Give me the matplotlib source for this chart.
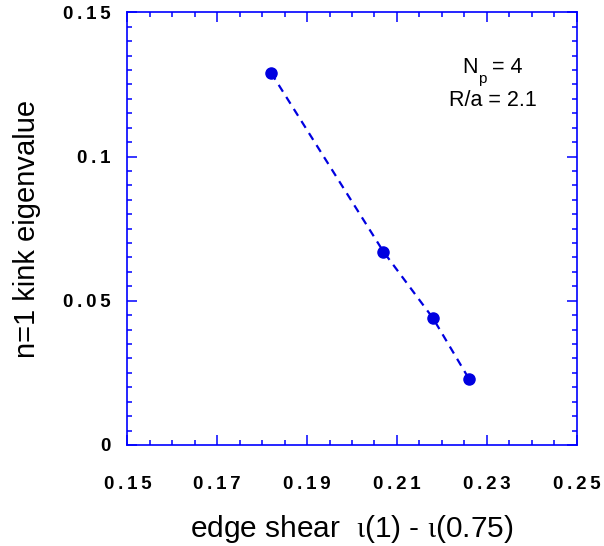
import numpy as np
import matplotlib
matplotlib.use('Agg')
import matplotlib.pyplot as plt
from matplotlib.ticker import MultipleLocator

plt.rcParams['font.family'] = ['Liberation Sans', 'DejaVu Sans']
plt.rcParams['mathtext.fontset'] = 'custom'
plt.rcParams['mathtext.rm'] = 'Liberation Sans'
plt.rcParams['mathtext.it'] = 'Liberation Serif'

# data
edge_shear = [0.182, 0.207, 0.218, 0.226]
kink_eig = [0.129, 0.067, 0.044, 0.023]

x_ticks = [0.15, 0.17, 0.19, 0.21, 0.23, 0.25]
x_labels = ['0.15', '0.17', '0.19', '0.21', '0.23', '0.25']
y_ticks = [0, 0.05, 0.1, 0.15]
y_labels = ['0', '0.05', '0.1', '0.15']

blue = '#0000FF'
mark = '#0000E0'


def spaced(s):
    # the original labels are letter-spaced
    return '\u2009'.join(s)


fig = plt.figure(figsize=(6.04, 5.46), dpi=100)
ax = fig.add_axes([0.2108, 0.185, 0.744, 0.7925])

ax.plot(edge_shear, kink_eig, color=mark, ls=(0, (3.6, 2.8)), lw=1.6)
ax.plot(edge_shear, kink_eig, 'o', color=mark, ms=8, mec=mark)

ax.set_xlim(0.15, 0.25)
ax.set_ylim(0, 0.15)
ax.set_xticks(x_ticks)
ax.set_xticklabels([spaced(s) for s in x_labels], fontsize=13.5, fontweight='bold')
ax.set_yticks(y_ticks)
ax.set_yticklabels([spaced(s) for s in y_labels], fontsize=13.5, fontweight='bold')
ax.xaxis.set_minor_locator(MultipleLocator(0.005))
ax.yaxis.set_minor_locator(MultipleLocator(0.005))

ax.tick_params(which='both', direction='in', top=True, right=True, color=blue, width=1.1)
ax.tick_params(which='major', length=7.2)
ax.tick_params(which='minor', length=3.6)
ax.tick_params(axis='x', which='major', pad=22)
ax.tick_params(axis='y', which='major', pad=12)

for sp in ax.spines.values():
    sp.set_color(blue)
    sp.set_linewidth(1.2)

ax.set_xlabel(r'edge shear  $\iota$(1) - $\iota$(0.75)', fontsize=21.5, labelpad=15)
ax.set_ylabel('n=1 kink eigenvalue', fontsize=21, labelpad=16)

# N_p = 4 built from pieces so the subscript sits low like the original
anchor = (0.2314, 0.1289)
ax.annotate('N', anchor, xytext=(-22.5, 0), textcoords='offset points',
            fontsize=15.5, ha='left', va='baseline')
ax.annotate('p', anchor, xytext=(-11, -7.2), textcoords='offset points',
            fontsize=11, ha='left', va='baseline')
ax.annotate('= 4', anchor, xytext=(-1, 0), textcoords='offset points',
            fontsize=15.5, ha='left', va='baseline')
ax.text(0.2314, 0.1174, 'R/a = 2.1', fontsize=15.5, ha='center', va='baseline')

fig.savefig('out.png', dpi=100)
